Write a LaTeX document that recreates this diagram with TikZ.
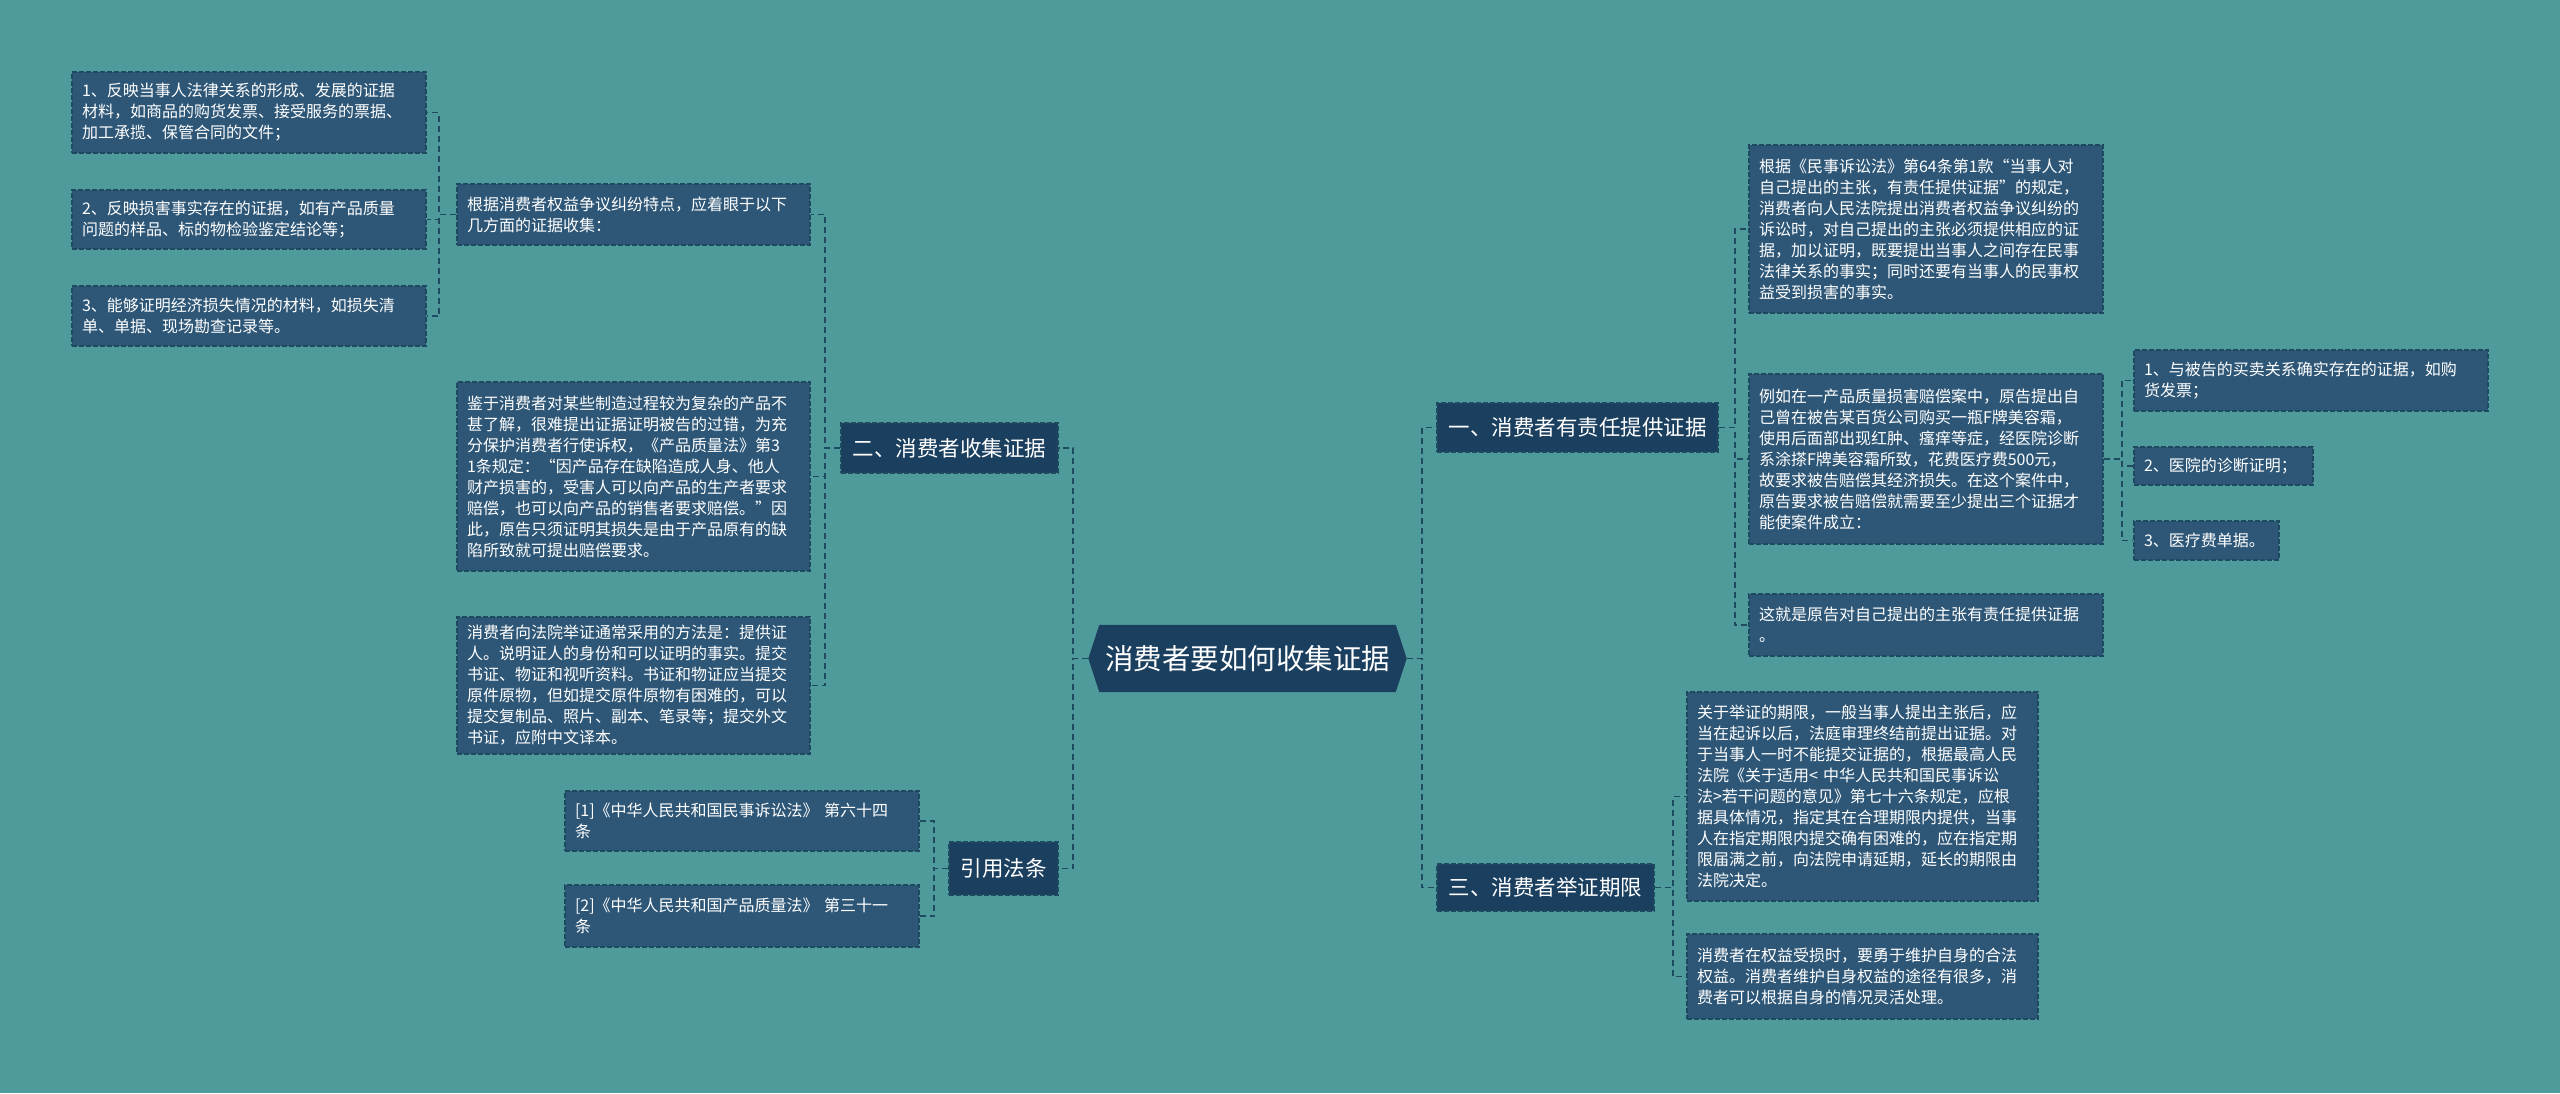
\documentclass[tikz,border=0pt]{standalone}
\usepackage{fontspec}
\setmainfont{Noto Sans CJK SC}
\usetikzlibrary{backgrounds}
\definecolor{bgc}{HTML}{4F9B9B}
\definecolor{leafc}{HTML}{2E5777}
\definecolor{mainc}{HTML}{1B3F5F}
\definecolor{bordc}{HTML}{1D4A60}
\definecolor{linec}{HTML}{1E4A62}
\tikzset{
 leaf/.style={draw=bordc, line width=1.3pt, dash pattern=on 5pt off 2pt, fill=leafc, text=white, align=left, inner xsep=10pt, inner ysep=0pt, font=\fontsize{16}{21}\selectfont},
 mainbox/.style={draw=bordc, line width=1.3pt, dash pattern=on 5pt off 2pt, fill=mainc, text=white, inner sep=0pt, font=\fontsize{21.5}{26}\selectfont},
 conn/.style={draw=linec, line width=1.8pt, dash pattern=on 6pt off 4pt},
}
\begin{document}
\begin{tikzpicture}[x=1pt,y=-1pt]
\begin{pgfonlayer}{background}
\fill[bgc] (0,0) rectangle (2560,1093);
\end{pgfonlayer}
\useasboundingbox (0,0) rectangle (2560,1093);

% root
\node (root) [text=white, inner sep=0pt, minimum width=318pt, minimum height=67pt, font=\fontsize{28.5}{32}\selectfont] at (1247.5,658.5) {消费者要如何收集证据};
\begin{pgfonlayer}{background}
\fill[mainc] (root.west) -- ([xshift=11pt]root.north west) -- ([xshift=-11pt]root.north east) -- (root.east) -- ([xshift=-11pt]root.south east) -- ([xshift=11pt]root.south west) -- cycle;
\end{pgfonlayer}

% level 1
\node (two) [mainbox, minimum width=217pt, minimum height=50pt] at (949.5,448) {二、消费者收集证据};
\node (law) [mainbox, minimum width=109pt, minimum height=53pt] at (1003.5,868.5) {引用法条};
\node (one) [mainbox, minimum width=281pt, minimum height=49pt] at (1577.5,427.5) {一、消费者有责任提供证据};
\node (three) [mainbox, minimum width=217pt, minimum height=47pt] at (1545.5,887.5) {三、消费者举证期限};

% left level 2
\node (A) [leaf, text width=333pt, minimum height=61pt] at (633.5,214.5) {根据消费者权益争议纠纷特点，应着眼于以下\\几方面的证据收集：};
\node (B) [leaf, text width=333pt, minimum height=189pt] at (633.5,476.5) {鉴于消费者对某些制造过程较为复杂的产品不\\甚了解，很难提出证据证明被告的过错，为充\\分保护消费者行使诉权，《产品质量法》第3\\1条规定：“因产品存在缺陷造成人身、他人\\财产损害的，受害人可以向产品的生产者要求\\赔偿，也可以向产品的销售者要求赔偿。”因\\此，原告只须证明其损失是由于产品原有的缺\\陷所致就可提出赔偿要求。};
\node (C) [leaf, text width=333pt, minimum height=137pt] at (633.5,685.5) {消费者向法院举证通常采用的方法是：提供证\\人。说明证人的身份和可以证明的事实。提交\\书证、物证和视听资料。书证和物证应当提交\\原件原物，但如提交原件原物有困难的，可以\\提交复制品、照片、副本、笔录等；提交外文\\书证，应附中文译本。};

% left level 3
\node (a1) [leaf, text width=334pt, minimum height=81pt] at (249,112.5) {1、反映当事人法律关系的形成、发展的证据\\材料，如商品的购货发票、接受服务的票据、\\加工承揽、保管合同的文件；};
\node (a2) [leaf, text width=334pt, minimum height=59pt] at (249,219.5) {2、反映损害事实存在的证据，如有产品质量\\问题的样品、标的物检验鉴定结论等；};
\node (a3) [leaf, text width=334pt, minimum height=60pt] at (249,316) {3、能够证明经济损失情况的材料，如损失清\\单、单据、现场勘查记录等。};

\node (r1) [leaf, text width=334pt, minimum height=60pt] at (742,821) {[1]《中华人民共和国民事诉讼法》 第六十四\\条};
\node (r2) [leaf, text width=334pt, minimum height=62pt] at (742,916) {[2]《中华人民共和国产品质量法》 第三十一\\条};

% right
\node (b1) [leaf, text width=334pt, minimum height=168pt] at (1926,229) {根据《民事诉讼法》第64条第1款“当事人对\\自己提出的主张，有责任提供证据”的规定，\\消费者向人民法院提出消费者权益争议纠纷的\\诉讼时，对自己提出的主张必须提供相应的证\\据，加以证明，既要提出当事人之间存在民事\\法律关系的事实；同时还要有当事人的民事权\\益受到损害的事实。};
\node (b2) [leaf, text width=334pt, minimum height=170pt] at (1926,459) {例如在一产品质量损害赔偿案中，原告提出自\\己曾在被告某百货公司购买一瓶F牌美容霜，\\使用后面部出现红肿、瘙痒等症，经医院诊断\\系涂搽F牌美容霜所致，花费医疗费500元，\\故要求被告赔偿其经济损失。在这个案件中，\\原告要求被告赔偿就需要至少提出三个证据才\\能使案件成立：};
\node (b3) [leaf, text width=334pt, minimum height=62pt] at (1926,625) {这就是原告对自己提出的主张有责任提供证据\\。};

\node (c1) [leaf, text width=334pt, minimum height=61pt] at (2311,380.5) {1、与被告的买卖关系确实存在的证据，如购\\货发票；};
\node (c2) [leaf, text width=159pt, minimum height=38pt] at (2223.5,466) {2、医院的诊断证明；};
\node (c3) [leaf, text width=125pt, minimum height=39pt] at (2206.5,540.5) {3、医疗费单据。};

\node (d1) [leaf, text width=331pt, minimum height=209pt] at (1862.5,796.5) {关于举证的期限，一般当事人提出主张后，应\\当在起诉以后，法庭审理终结前提出证据。对\\于当事人一时不能提交证据的，根据最高人民\\法院《关于适用< 中华人民共和国民事诉讼\\法>若干问题的意见》第七十六条规定，应根\\据具体情况，指定其在合理期限内提供，当事\\人在指定期限内提交确有困难的，应在指定期\\限届满之前，向法院申请延期，延长的期限由\\法院决定。};
\node (d2) [leaf, text width=331pt, minimum height=85pt] at (1862.5,976.5) {消费者在权益受损时，要勇于维护自身的合法\\权益。消费者维护自身权益的途径有很多，消\\费者可以根据自身的情况灵活处理。};

% connectors
\foreach \c in {two,law} \draw[conn] (root.west) -- ([xshift=-15pt]root.west) |- (\c.east);
\foreach \c in {one,three} \draw[conn] (root.east) -- ([xshift=15pt]root.east) |- (\c.west);
\foreach \c in {A,B,C} \draw[conn] (two.west) -- ([xshift=-15pt]two.west) |- (\c.east);
\foreach \c in {a1,a2,a3} \draw[conn] (A.west) -- ([xshift=-17pt]A.west) |- (\c.east);
\foreach \c in {r1,r2} \draw[conn] (law.west) -- ([xshift=-14pt]law.west) |- (\c.east);
\foreach \c in {b1,b2,b3} \draw[conn] (one.east) -- ([xshift=16pt]one.east) |- (\c.west);
\foreach \c in {c1,c2,c3} \draw[conn] (b2.east) -- ([xshift=18pt]b2.east) |- (\c.west);
\foreach \c in {d1,d2} \draw[conn] (three.east) -- ([xshift=18pt]three.east) |- (\c.west);
\end{tikzpicture}
\end{document}
